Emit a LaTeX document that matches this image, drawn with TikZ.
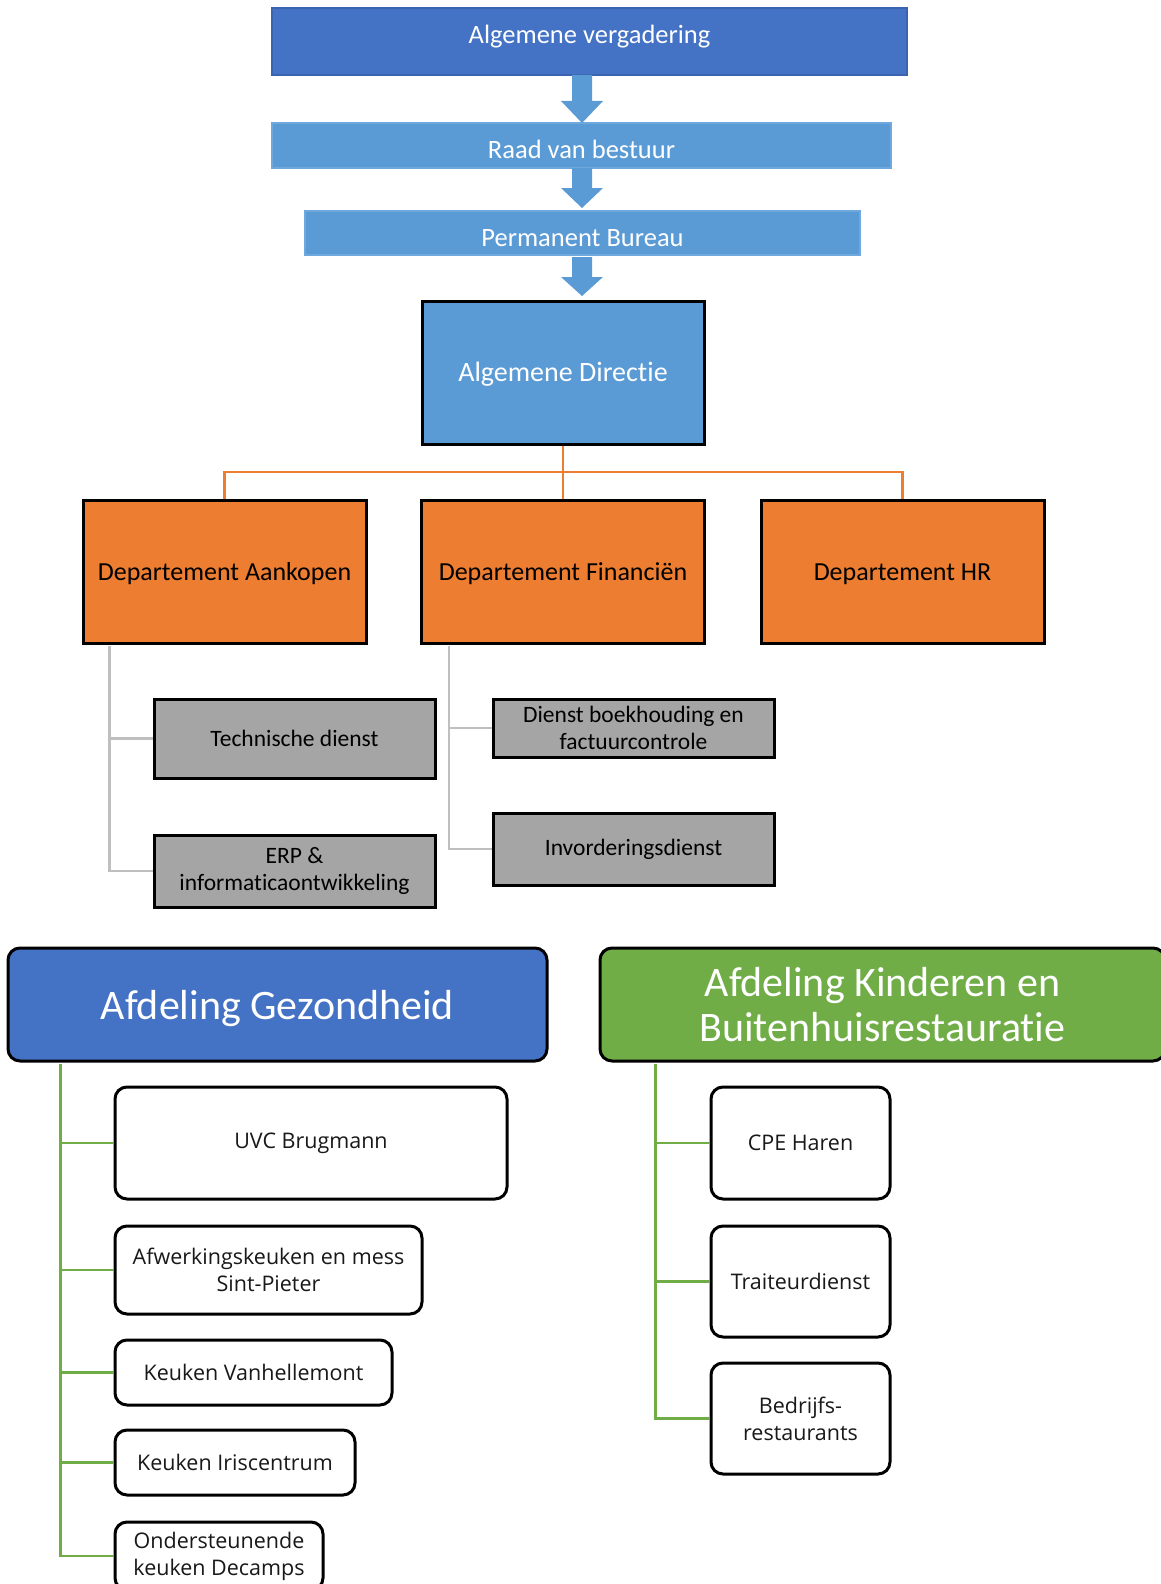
\documentclass[tikz,border=0pt]{standalone}
\usepackage{fontspec}
\setmainfont{Carlito}[Ligatures={NoCommon,NoRequired}]
\newfontfamily\osans{Open Sans}
\usetikzlibrary{calc}
\definecolor{dblue}{HTML}{4472C4}
\definecolor{dblueedge}{HTML}{3A64B0}
\definecolor{lblue}{HTML}{5B9BD5}
\definecolor{lblueedge}{HTML}{6FA8DC}
\definecolor{orng}{HTML}{ED7D31}
\definecolor{gryfill}{HTML}{A5A5A5}
\definecolor{gryline}{HTML}{BFBFBF}
\definecolor{grn}{HTML}{70AD47}
\tikzset{
  topbox/.style={rectangle, inner sep=0pt, text=white, font=\fontsize{26.5}{30}\selectfont},
  dirbox/.style={rectangle, inner sep=0pt, fill=lblue, draw=black, line width=3pt, text=white, font=\fontsize{28}{32}\selectfont},
  deptbox/.style={rectangle, inner sep=0pt, fill=orng, draw=black, line width=3pt, text=black, text height=21pt, text depth=3pt, font=\fontsize{26}{30}\selectfont},
  graybox/.style={rectangle, inner sep=0pt, fill=gryfill, draw=black, line width=3pt, text=black, align=center, font=\fontsize{23.5}{26.5}\selectfont},
  afdbox/.style={rectangle, rounded corners=12pt, inner sep=0pt, draw=black, line width=3pt, text=white, align=center, font=\fontsize{42}{45.5}\selectfont},
  unitbox/.style={rectangle, rounded corners=12pt, inner sep=0pt, fill=white, draw=black, line width=3pt, text=black!90, align=center, font=\osans\fontsize{21.5}{27}\selectfont},
  blockarrow/.style={fill=lblue},
  orgline/.style={draw=orng, line width=2.5pt},
  gline/.style={draw=gryline, line width=2.5pt},
  grline/.style={draw=grn, line width=2.5pt},
}
\begin{document}
\begin{tikzpicture}[x=1pt,y=-1pt]
\useasboundingbox (0,0) rectangle (1161,1584);
\clip (0,0) rectangle (1161,1584);

% top chain
\node[topbox, fill=dblue, draw=dblueedge, line width=1.5pt, minimum width=635, minimum height=67, text height=14pt, text depth=10.8pt] (av) at (589.5,41.5) {Algemene vergadering};
\node[topbox, fill=lblue, draw=lblueedge, line width=1.5pt, minimum width=619, minimum height=45, text height=27pt, text depth=1.6pt] (rvb) at (581.5,145.5) {Raad van bestuur};
\node[topbox, fill=lblue, draw=lblueedge, line width=1.5pt, minimum width=555, minimum height=44, text height=28pt, text depth=1.8pt] (pb) at (582.5,233) {Permanent Bureau};
\node[dirbox, minimum width=282, minimum height=143, text height=20pt, text depth=3pt] (ad) at (563,372.5) {Algemene Directie};

% block arrows
\fill[blockarrow] (572,75) -- (592,75) -- (592,101) -- (603,101) -- (582,123) -- (561,101) -- (572,101) -- cycle;
\fill[blockarrow] (572,168) -- (592,168) -- (592,188) -- (603,188) -- (582,208) -- (561,188) -- (572,188) -- cycle;
\fill[blockarrow] (572,257) -- (592,257) -- (592,277) -- (603,277) -- (582,296) -- (561,277) -- (572,277) -- cycle;

% departments
\node[deptbox, minimum width=283, minimum height=143] (da) at (224.5,571.5) {Departement Aankopen};
\node[deptbox, minimum width=283, minimum height=143] (df) at (563,571.5) {Departement Financiën};
\node[deptbox, minimum width=283, minimum height=143] (dh) at (902.5,571.5) {Departement HR};

\coordinate (bus) at (563,472);
\draw[orgline] (ad.south) -- (bus);
\draw[orgline] (da.north) |- (bus) -| (dh.north);
\draw[orgline] (bus) -- (df.north);

% gray services
\node[graybox, minimum width=281, minimum height=79] (td) at (294.5,738.5) {Technische dienst};
\node[graybox, minimum width=281, minimum height=72] (erp) at (294.5,871) {ERP \&\\informaticaontwikkeling};
\node[graybox, minimum width=281, minimum height=58] (dbf) at (633.5,728) {Dienst boekhouding en\\factuurcontrole};
\node[graybox, minimum width=281, minimum height=72] (inv) at (633.5,849) {Invorderingsdienst};

\coordinate (ta) at ($(da.south west)+(28,1.5)$);
\draw[gline] (ta) |- (erp.west);
\draw[gline] (ta |- td.west) -- (td.west);
\coordinate (tf) at ($(df.south west)+(29,1.5)$);
\draw[gline] (tf) |- (inv.west);
\draw[gline] (tf |- dbf.west) -- (dbf.west);

% afdelingen
\node[afdbox, fill=dblue, minimum width=539, minimum height=113, text height=34pt, text depth=4.6pt] (ag) at (277.5,1004.5) {Afdeling Gezondheid};
\node[afdbox, fill=grn, minimum width=565, minimum height=113] (ak) at (882.5,1004.5) {Afdeling Kinderen en\\Buitenhuisrestauratie};

% units left
\node[unitbox, minimum width=392, minimum height=112] (uvc) at (311,1143) {UVC Brugmann};
\node[unitbox, minimum width=307, minimum height=88] (afw) at (268.5,1270) {Afwerkingskeuken en mess\\Sint-Pieter};
\node[unitbox, minimum width=277, minimum height=65] (kvh) at (253.5,1372.5) {Keuken Vanhellemont};
\node[unitbox, minimum width=240, minimum height=65] (kir) at (235,1462.5) {Keuken Iriscentrum};
\node[unitbox, minimum width=208, minimum height=68] (ond) at (219,1556) {Ondersteunende\\keuken Decamps};

\coordinate (tg) at ($(ag.south west)+(54,1.5)$);
\draw[grline] (tg) |- (ond.west);
\foreach \n in {uvc,afw,kvh,kir} \draw[grline] (tg |- \n.west) -- (\n.west);

% units right
\node[unitbox, minimum width=179, minimum height=112] (cpe) at (800.5,1143) {CPE Haren};
\node[unitbox, minimum width=179, minimum height=111] (trd) at (800.5,1281.5) {Traiteurdienst};
\node[unitbox, minimum width=179, minimum height=111] (bdr) at (800.5,1418.5) {Bedrijfs-\\restaurants};

\coordinate (tk) at ($(ak.south west)+(57,1.5)$);
\draw[grline] (tk) |- (bdr.west);
\foreach \n in {cpe,trd} \draw[grline] (tk |- \n.west) -- (\n.west);
\end{tikzpicture}
\end{document}
